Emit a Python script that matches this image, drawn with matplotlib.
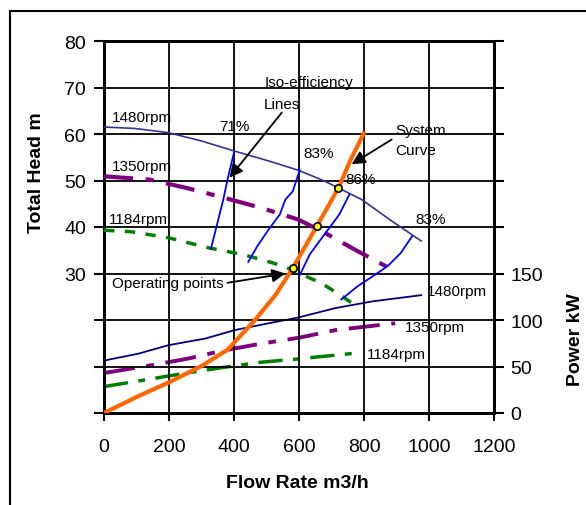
import matplotlib
matplotlib.use("Agg")
import matplotlib.pyplot as plt
from matplotlib.patches import Rectangle

plt.rcParams['font.family'] = ['Liberation Sans', 'DejaVu Sans']

# ---- data ----
# Head curves (left axis, m)
q_h1480 = [0, 94, 197, 300, 403, 507, 598, 678, 793, 885, 976]
h_1480 = [61.5, 61.2, 60.3, 58.5, 56.3, 54.2, 52.2, 49.9, 45.9, 41.3, 37.0]
q_h1350 = [0, 140, 254, 369, 484, 598, 678, 770, 896]
h_1350 = [50.9, 50.2, 48.4, 46.3, 44.1, 41.6, 38.8, 35.2, 30.5]
q_h1184 = [0, 82, 197, 323, 426, 484, 552, 598, 667, 724, 770]
h_1184 = [39.3, 39.0, 37.7, 35.5, 34.1, 33.0, 31.6, 30.1, 28.0, 25.5, 23.3]

# Power curves (right axis, kW)
q_p1480 = [0, 105, 197, 312, 403, 507, 598, 713, 827, 976]
p_1480 = [56.4, 63.7, 72.8, 80.1, 89.2, 96.5, 102.7, 112.9, 120.1, 126.7]
q_p1350 = [0, 140, 254, 369, 484, 598, 713, 896]
p_1350 = [43.0, 51.0, 58.2, 67.3, 74.6, 80.8, 89.2, 96.5]
q_p1184 = [0, 140, 254, 369, 484, 598, 787]
p_1184 = [28.4, 36.4, 43.0, 49.1, 54.6, 58.2, 64.8]

# System curve (left axis)
q_sys = [0, 105, 197, 300, 380, 461, 529, 581, 655, 690, 724, 759, 799]
h_sys = [0, 3.6, 6.5, 10.1, 13.6, 19.7, 25.5, 31.2, 40.2, 44.5, 48.8, 54.5, 60.1]

# Operating points
q_op = [581, 655, 721]
h_op = [31.2, 40.2, 48.3]

# Iso-efficiency lines
q_e71 = [400, 380, 367, 329]
h_e71 = [56.0, 50.2, 45.9, 35.3]
q_e83a = [602, 581, 558, 541, 507, 472, 444]
h_e83a = [52.2, 47.7, 45.9, 42.7, 39.5, 35.9, 32.5]
q_e86 = [755, 724, 690, 655, 633, 602]
h_e86 = [47.0, 42.7, 39.5, 36.2, 34.1, 29.6]
q_e83b = [948, 913, 873, 827, 781, 730]
h_e83b = [38.0, 34.4, 31.6, 29.4, 27.3, 24.4]

x_ticks = [0, 200, 400, 600, 800, 1000, 1200]
left_ticks = [0, 10, 20, 30, 40, 50, 60, 70, 80]
left_labels = ['', '', '', '30', '40', '50', '60', '70', '80']
right_ticks = [0, 50, 100, 150, 200, 250, 300, 350, 400]
right_labels = ['0', '50', '100', '150', '', '', '', '', '']

# ---- figure ----
fig = plt.figure(figsize=(5.86, 5.06), dpi=100)
ax = fig.add_axes([104/586, 1-414/506, 390/586, 372/506])
ax2 = ax.twinx()
ax.set_zorder(ax2.get_zorder() + 1)
ax.patch.set_visible(False)

# outer frame
fig.patches.append(Rectangle((10/586, -0.1), 1.2, 1 - 12/506 + 0.1,
                             transform=fig.transFigure, fill=False,
                             edgecolor='black', lw=1.5))

ax.set_xlim(0, 1200)
ax.set_ylim(0, 80)
ax2.set_ylim(0, 400)
ax.set_xticks(x_ticks)
ax.set_yticks(left_ticks)
ax.set_yticklabels(left_labels)
ax2.set_yticks(right_ticks)
ax2.set_yticklabels(right_labels)

ax.grid(True, color='black', lw=1.3, zorder=0)
for a in (ax, ax2):
    for s in a.spines.values():
        s.set_linewidth(2)
        s.set_color('black')
ax.tick_params(axis='x', direction='out', length=6, width=1.5, labelsize=14, pad=12)
ax.tick_params(axis='y', direction='out', length=7, width=1.5, labelsize=14, pad=6)
ax2.tick_params(axis='y', direction='out', length=7, width=1.5, labelsize=14, pad=5)

ax.set_xlabel('Flow Rate m3/h', fontsize=14, fontweight='bold')
ax.xaxis.set_label_coords(0.497, -0.165)
ax.set_ylabel('Total Head m', fontsize=14, fontweight='bold')
ax.yaxis.set_label_coords(-0.152, 0.65)
ax2.set_ylabel('Power kW', fontsize=14, fontweight='bold')
ax2.yaxis.set_label_coords(1.186, 0.201)

# power curves
ax2.plot(q_p1480, p_1480, color='#000080', lw=1.3)
ax2.plot(q_p1350, p_1350, color='#800080', lw=2.8, ls=(0, (8, 3, 2, 3)))
ax2.plot(q_p1184, p_1184, color='#008000', lw=2.5, ls=(0, (7, 3, 2, 3)))

# head curves
ax.plot(q_h1480, h_1480, color='#333399', lw=1.2, zorder=3)
ax.plot(q_h1350, h_1350, color='#800080', lw=3, ls=(0, (7, 3, 2, 3)), zorder=3)
ax.plot(q_h1184, h_1184, color='#008000', lw=2.5, ls=(0, (3, 3)), zorder=3)

# iso-efficiency
for qq, hh in [(q_e71, h_e71), (q_e83a, h_e83a), (q_e86, h_e86), (q_e83b, h_e83b)]:
    ax.plot(qq, hh, color='#0000FF', lw=1.3, zorder=3)

# system curve
ax.plot(q_sys, h_sys, color='#FF6600', lw=3, zorder=4)
ax.scatter(q_op, h_op, s=28, facecolor='#FFFF00', edgecolor='black', lw=1.2, zorder=5)

# texts
tk = dict(fontsize=11, va='center', ha='left', zorder=6)
ax.text(25, 63.7, '1480rpm', **tk)
ax.text(25, 53.1, '1350rpm', **tk)
ax.text(14, 41.8, '1184rpm', **tk)
ax.text(355, 61.7, '71%', **tk)
ax.text(613, 56.0, '83%', **tk)
ax.text(744, 50.4, '86%', **tk)
ax.text(957, 41.8, '83%', **tk)
ax.text(493, 71.2, 'Iso-efficiency', **tk)
ax.text(493, 66.4, 'Lines', **tk)
ax.text(896, 60.8, 'System', **tk)
ax.text(896, 56.5, 'Curve', **tk)
ax.text(25, 28.0, 'Operating points', **tk)
ax.text(994, 26.3, '1480rpm', **tk)
ax.text(925, 18.5, '1350rpm', **tk)
ax.text(808, 12.6, '1184rpm', **tk)

ap = dict(arrowstyle='-|>', color='black', lw=1.3, mutation_scale=20, shrinkA=0, shrinkB=0)
ax.annotate('', xy=(386, 50.6), xytext=(547, 64.6), arrowprops=ap, zorder=6)
ax.annotate('', xy=(762, 53.5), xytext=(885, 58.8), arrowprops=ap, zorder=6)
ax.annotate('', xy=(558, 30.0), xytext=(380, 28.0), arrowprops=ap, zorder=6)

fig.savefig('out.png', dpi=100)
